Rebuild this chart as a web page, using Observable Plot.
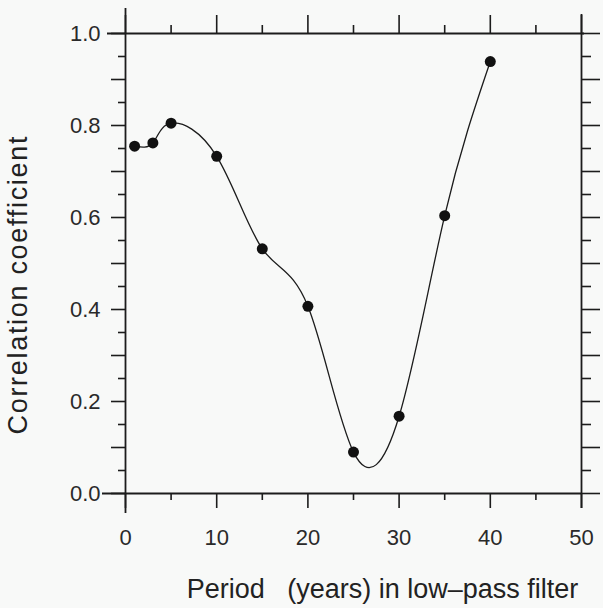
<!DOCTYPE html>
<html>
<head>
<meta charset="utf-8">
<script src="https://cdn.jsdelivr.net/npm/d3@7"></script>
<script src="https://cdn.jsdelivr.net/npm/@observablehq/plot@0.6"></script>
<style>
  body { margin: 0; background: #f8f9f8; }
  #chart svg { display: block; }
</style>
</head>
<body>
<div id="chart"></div>
<script>
// Data
const period = [1, 3, 5, 10, 15, 20, 25, 30, 35, 40];
const corr   = [0.755, 0.762, 0.805, 0.733, 0.532, 0.407, 0.09, 0.168, 0.604, 0.939];

// Tick values and labels
const xTickLabels = [0, 10, 20, 30, 40, 50];
const xMinorTicks = [5, 15, 25, 35, 45];
const yTickLabels = [0.0, 0.2, 0.4, 0.6, 0.8, 1.0];
const yMajorTicks = [0.0, 0.1, 0.2, 0.3, 0.4, 0.5, 0.6, 0.7, 0.8, 0.9, 1.0];
const yMinorTicks = [0.05, 0.15, 0.25, 0.35, 0.45, 0.55, 0.65, 0.75, 0.85, 0.95];

const xTitle = "Period\u00a0\u00a0 (years) in low\u2013pass filter";
const yTitle = "Correlation coefficient";

const data = period.map((p, i) => ({period: p, corr: corr[i]}));

const ink = "#1c1c1c";
const tickAxis = (fn, anchor, ticks, size) =>
  fn({anchor, ticks, tickSize: size, fill: "none", stroke: ink, strokeWidth: 1.6, label: null});

const chart = Plot.plot({
  width: 603,
  height: 608,
  marginLeft: 125,
  marginRight: 22,
  marginTop: 33,
  marginBottom: 115,
  style: {fontFamily: "'Liberation Sans', Arial, Helvetica, sans-serif", background: "transparent", color: ink},
  x: {domain: [0, 50]},
  y: {domain: [0, 1]},
  marks: [
    // frame lines (extending past the corners as in the original)
    Plot.ruleY([0], {insetLeft: -23, stroke: ink, strokeWidth: 1.8}),
    Plot.ruleY([1], {insetLeft: -18, insetRight: -3, stroke: ink, strokeWidth: 1.8}),
    Plot.ruleX([0], {insetTop: -25, insetBottom: -20, stroke: ink, strokeWidth: 1.8}),
    Plot.ruleX([50], {insetTop: -19, insetBottom: -15, stroke: ink, strokeWidth: 1.8}),
    // ticks
    tickAxis(Plot.axisX, "bottom", xTickLabels, 15),
    tickAxis(Plot.axisX, "bottom", xMinorTicks, 7),
    tickAxis(Plot.axisX, "top", xTickLabels, 19),
    tickAxis(Plot.axisX, "top", xMinorTicks, 9),
    tickAxis(Plot.axisY, "left", yMajorTicks, 14),
    tickAxis(Plot.axisY, "left", yMinorTicks, 7),
    tickAxis(Plot.axisY, "right", yMajorTicks, 18),
    tickAxis(Plot.axisY, "right", yMinorTicks, 9),
    // tick labels
    Plot.axisX({anchor: "bottom", ticks: xTickLabels, tickSize: 0, tickPadding: 36, fontSize: 22, fill: "#2a2a2a", label: null}),
    Plot.axisY({anchor: "left", ticks: yTickLabels, tickSize: 0, tickPadding: 25, tickFormat: d3.format(".1f"), fontSize: 22, fill: "#2a2a2a", label: null}),
    // data
    Plot.line(data, {x: "period", y: "corr", curve: "natural", stroke: ink, strokeWidth: 1.3}),
    Plot.dot(data, {x: "period", y: "corr", r: 5.5, fill: "#111", stroke: "none"}),
    // titles
    Plot.text([xTitle], {frameAnchor: "bottom", textAnchor: "middle", dx: 29, dy: 96, fontSize: 27, fill: "#222", lineAnchor: "middle"}),
    Plot.text([yTitle], {frameAnchor: "left", textAnchor: "middle", rotate: -90, dx: -107, dy: 22, fontSize: 27, fill: "#222", lineAnchor: "middle"})
  ]
});

// spread the rotated title to the length it has in the original
d3.select(chart).selectAll("text")
  .filter(function () { return this.textContent === yTitle; })
  .attr("textLength", 298)
  .attr("lengthAdjust", "spacing");

document.getElementById("chart").append(chart);
</script>
</body>
</html>
